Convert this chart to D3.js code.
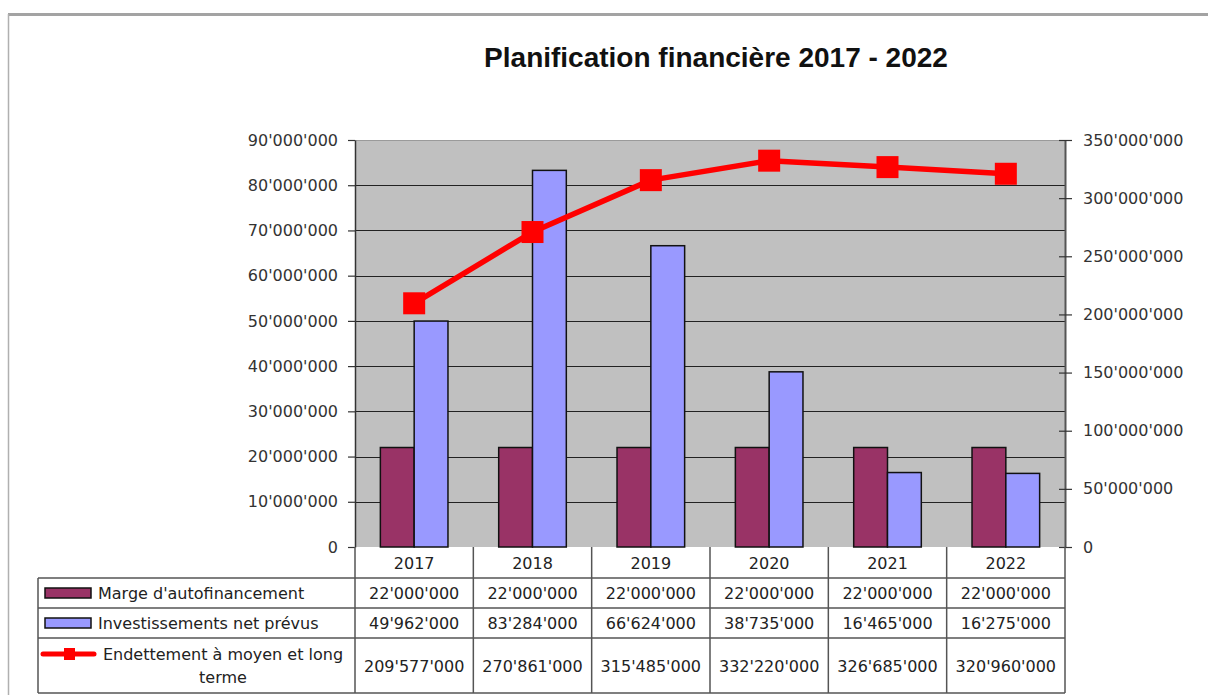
<!DOCTYPE html>
<html>
<head>
<meta charset="utf-8">
<script src="https://d3js.org/d3.v7.min.js"></script>
<style>
  body { margin: 0; background: #fff; }
  svg text { font-family: "DejaVu Sans", Tahoma, sans-serif; }
</style>
</head>
<body>
<svg id="chart" width="1208" height="695"></svg>
<script>
// data
var years = ["2017", "2018", "2019", "2020", "2021", "2022"];
var marge = [22000000, 22000000, 22000000, 22000000, 22000000, 22000000];
var invest = [49962000, 83284000, 66624000, 38735000, 16465000, 16275000];
var dette = [209577000, 270861000, 315485000, 332220000, 326685000, 320960000];
var leftTicks = [0, 10e6, 20e6, 30e6, 40e6, 50e6, 60e6, 70e6, 80e6, 90e6];
var rightTicks = [0, 50e6, 100e6, 150e6, 200e6, 250e6, 300e6, 350e6];
var seriesNames = ["Marge d'autofinancement", "Investissements net prévus", "Endettement à moyen et long terme"];

var COLORS = { marge: "#993366", invest: "#9999ff", dette: "#ff0000" };

var svg = d3.select("#chart");
var loc = d3.formatLocale({ decimal: ".", thousands: "'", grouping: [3], currency: ["", ""] });
var fmt = loc.format(",");

var plot = { left: 355, right: 1065, top: 140, bottom: 547 };

var x = d3.scaleBand().domain(years).range([plot.left, plot.right]);
var xs = d3.scaleBand().domain(["marge", "invest"]).range([0, x.bandwidth()])
    .paddingInner(0).paddingOuter(0.75);
var yL = d3.scaleLinear().domain([0, 90e6]).range([plot.bottom, plot.top]);
var yR = d3.scaleLinear().domain([0, 350e6]).range([plot.bottom, plot.top]);

// page frame
svg.append("line").attr("x1", 8).attr("x2", 1208).attr("y1", 14.5).attr("y2", 14.5)
    .attr("stroke", "#a3a3a3").attr("stroke-width", 3);
svg.append("line").attr("x1", 8.5).attr("x2", 8.5).attr("y1", 14).attr("y2", 695)
    .attr("stroke", "#b0b0b0").attr("stroke-width", 1.5);

// title
svg.append("text").attr("x", 716).attr("y", 67).attr("text-anchor", "middle")
    .style("font-family", "'Liberation Sans', Arial, sans-serif")
    .style("font-weight", "bold").style("font-size", "28px").attr("fill", "#111")
    .text("Planification financière 2017 - 2022");

// plot background
svg.append("rect").attr("x", plot.left).attr("y", plot.top)
    .attr("width", plot.right - plot.left).attr("height", plot.bottom - plot.top)
    .attr("fill", "#c0c0c0");

// grid lines
svg.append("g").selectAll("line").data(leftTicks.slice(1)).join("line")
    .attr("x1", plot.left).attr("x2", plot.right)
    .attr("y1", function (d) { return Math.round(yL(d)) + 0.5; })
    .attr("y2", function (d) { return Math.round(yL(d)) + 0.5; })
    .attr("stroke", function (d) { return d == 90e6 ? "#9a9a9a" : "#222"; })
    .attr("stroke-width", 1.2);

// bars
var groups = svg.append("g").selectAll("g").data(years).join("g")
    .attr("transform", function (d) { return "translate(" + x(d) + ",0)"; });
groups.append("rect")
    .attr("x", xs("marge")).attr("width", xs.bandwidth())
    .attr("y", function (d, i) { return yL(marge[i]); })
    .attr("height", function (d, i) { return plot.bottom - yL(marge[i]); })
    .attr("fill", COLORS.marge).attr("stroke", "#111").attr("stroke-width", 1.5);
groups.append("rect")
    .attr("x", xs("invest")).attr("width", xs.bandwidth())
    .attr("y", function (d, i) { return yL(invest[i]); })
    .attr("height", function (d, i) { return plot.bottom - yL(invest[i]); })
    .attr("fill", COLORS.invest).attr("stroke", "#111").attr("stroke-width", 1.5);

// debt line on the right axis
var line = d3.line()
    .x(function (d, i) { return x(years[i]) + x.bandwidth() / 2; })
    .y(function (d) { return yR(d); });
svg.append("path").datum(dette).attr("d", line)
    .attr("fill", "none").attr("stroke", COLORS.dette).attr("stroke-width", 5.5)
    .attr("stroke-linejoin", "round");
svg.append("g").selectAll("rect").data(dette).join("rect")
    .attr("x", function (d, i) { return x(years[i]) + x.bandwidth() / 2 - 11; })
    .attr("y", function (d) { return yR(d) - 11; })
    .attr("width", 22).attr("height", 22).attr("fill", COLORS.dette);

// axes
var axL = svg.append("g").attr("transform", "translate(" + plot.left + ",0)")
    .call(d3.axisLeft(yL).tickValues(leftTicks).tickFormat(fmt).tickSizeInner(7).tickSizeOuter(0).tickPadding(10));
var axR = svg.append("g").attr("transform", "translate(" + plot.right + ",0)")
    .call(d3.axisRight(yR).tickValues(rightTicks).tickFormat(fmt).tickSizeInner(7).tickSizeOuter(0).tickPadding(11));
axR.selectAll(".tick line").attr("x1", -6);
[axL, axR].forEach(function (ax) {
    ax.select(".domain").attr("stroke", "#555").attr("stroke-width", 2);
    ax.selectAll(".tick line").attr("stroke", "#333").attr("stroke-width", 1.2);
    ax.selectAll(".tick text").style("font-size", "16px").attr("fill", "#333");
});
axL.select(".domain").attr("stroke", "#333").attr("stroke-width", 1.5);

// data table
var rowsY = [plot.bottom, 578, 608, 638, 693];
var tableLeft = 38;
var tbl = svg.append("g");
var borderColor = "#555";

// horizontal lines
tbl.selectAll("line.h").data(rowsY).join("line").attr("class", "h")
    .attr("x1", function (d, i) { return i <= 1 ? (i == 0 ? plot.left : tableLeft) : tableLeft; })
    .attr("x2", plot.right)
    .attr("y1", function (d) { return d; }).attr("y2", function (d) { return d; })
    .attr("stroke", borderColor).attr("stroke-width", 1.5);
tbl.select("line.h").remove();
// vertical lines at category boundaries
var colEdges = years.map(function (d) { return x(d); }).concat([plot.right]);
tbl.selectAll("line.v").data(colEdges).join("line").attr("class", "v")
    .attr("x1", function (d) { return d; }).attr("x2", function (d) { return d; })
    .attr("y1", plot.bottom).attr("y2", rowsY[4])
    .attr("stroke", borderColor).attr("stroke-width", 1.5);
tbl.append("line").attr("x1", tableLeft).attr("x2", tableLeft)
    .attr("y1", rowsY[1]).attr("y2", rowsY[4])
    .attr("stroke", borderColor).attr("stroke-width", 1.5);

// year header
tbl.selectAll("text.yr").data(years).join("text").attr("class", "yr")
    .attr("x", function (d) { return x(d) + x.bandwidth() / 2; })
    .attr("y", (rowsY[0] + rowsY[1]) / 2 + 6)
    .attr("text-anchor", "middle").style("font-size", "16px").attr("fill", "#222")
    .text(function (d) { return d; });

var tableData = [marge, invest, dette];
tableData.forEach(function (vals, r) {
    var yc = (rowsY[r + 1] + rowsY[r + 2]) / 2 + 6;
    tbl.selectAll("text.v" + r).data(vals).join("text").attr("class", "v" + r)
        .attr("x", function (d, i) { return x(years[i]) + x.bandwidth() / 2; })
        .attr("y", yc).attr("text-anchor", "middle")
        .style("font-size", "16px").attr("fill", "#222")
        .text(function (d) { return fmt(d); });
});

// legend keys in the first column
[COLORS.marge, COLORS.invest].forEach(function (c, r) {
    var yc = (rowsY[r + 1] + rowsY[r + 2]) / 2;
    tbl.append("rect").attr("x", 45).attr("y", yc - 5).attr("width", 46).attr("height", 10)
        .attr("fill", c).attr("stroke", "#111").attr("stroke-width", 1.5);
    tbl.append("text").attr("x", 98).attr("y", yc + 6)
        .style("font-size", "16px").attr("fill", "#222").text(seriesNames[r]);
});
tbl.append("line").attr("x1", 43).attr("x2", 94).attr("y1", 654).attr("y2", 654)
    .attr("stroke", COLORS.dette).attr("stroke-width", 5).attr("stroke-linecap", "round");
tbl.append("rect").attr("x", 64).attr("y", 648).attr("width", 11).attr("height", 12)
    .attr("fill", COLORS.dette);
var lbl = tbl.append("text").attr("text-anchor", "middle")
    .style("font-size", "16px").attr("fill", "#222");
lbl.append("tspan").attr("x", 223).attr("y", 660).text("Endettement à moyen et long");
lbl.append("tspan").attr("x", 223).attr("y", 683).text("terme");
</script>
</body>
</html>
